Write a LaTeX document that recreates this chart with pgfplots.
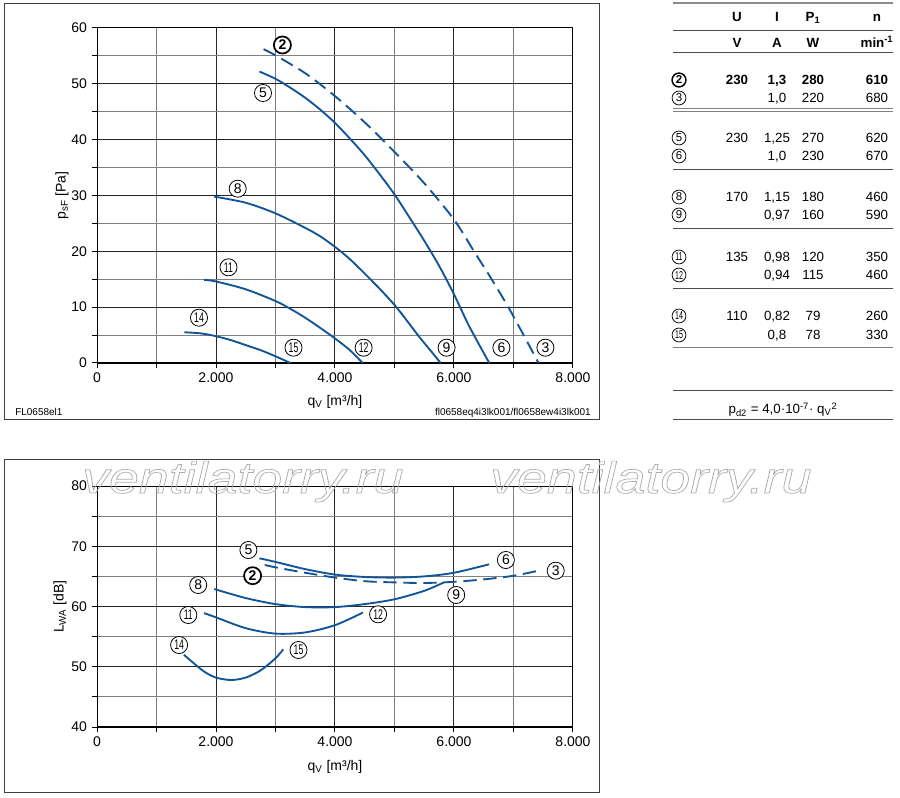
\documentclass[border=0pt]{standalone}
\usepackage{pgfplots}
\pgfplotsset{compat=1.18}
\usepackage{fontspec}
\setmainfont{Liberation Sans}
\usepackage{graphicx}
\definecolor{curve}{RGB}{18,84,152}
\begin{document}
\begin{tikzpicture}
\path[use as bounding box] (0,0) rectangle (675pt,597.75pt);
\pgfplotsset{
  myaxis/.style={
    anchor=south west, scale only axis, width=357pt,
    xmin=0,xmax=8000,
    xtick={0,2000,4000,6000,8000}, xticklabels={0,2.000,4.000,6.000,8.000},
    minor xtick={1000,3000,5000,7000},
    grid=both,
    major grid style={black!85,line width=0.75pt},
    minor grid style={black!50,line width=0.75pt},
    axis line style={black,line width=0.75pt},
    tick align=outside, major tick length=4pt, minor tick length=4pt,
    tick style={black,line width=0.75pt},
    tick pos=left,
    tick label style={font=\fontsize{10.5}{12}\selectfont},
    /pgf/number format/assume math mode=true,
    label style={font=\fontsize{10.5}{12}\selectfont},
    clip=false,
  }
}
% ---------- top axis ----------
\begin{axis}[myaxis, at={(72.75pt,325.5pt)}, height=251.25pt,
  ymin=0,ymax=60, ytick={0,10,...,60}, minor ytick={5,15,...,55},
  xlabel={q\textsubscript{V} [m³/h]},
  ylabel={p\textsubscript{sF} [Pa]},
  ylabel style={at={(axis description cs:-0.0735,0.5)},anchor=center},
  xlabel style={at={(axis description cs:0.5,-0.1164)},anchor=center},
]
\draw[black,line width=1.6pt] (axis cs:0,0) -- (axis cs:8000,0);
% 2/3 dashed
\addplot[curve,line width=1.4pt,smooth,dash pattern=on 10pt off 5pt] coordinates {
(2800,56.2) (3000,55.1) (3500,51.9) (4000,47.8) (4500,43.1) (5000,37.8) (5500,32.2) (6000,25.7) (6336,20.0) (6633,15.0) (6913,10.0) (7170,5.0) (7420,0)};
% 5/6
\addplot[curve,line width=1.4pt,smooth] coordinates {
(2730,52.2) (3000,50.9) (3250,49.3) (3500,47.5) (3750,45.4) (4000,43.0) (4250,40.2) (4500,37.2) (4750,33.8) (5000,30.2) (5250,26.1) (5500,21.9) (5750,17.4) (6000,12.3) (6250,6.7) (6593,0)};
% 8/9
\addplot[curve,line width=1.4pt,smooth] coordinates {
(1970,29.8) (2500,28.7) (3000,26.8) (3500,24.2) (3750,22.7) (4000,20.8) (4250,18.6) (4500,16.0) (4750,13.3) (5000,10.4) (5200,7.7) (5400,4.9) (5600,2.3) (5776,0)};
% 11/12
\addplot[curve,line width=1.4pt,smooth] coordinates {
(1800,14.9) (2000,14.6) (2500,13.2) (3000,11.1) (3250,9.7) (3500,8.1) (3750,6.3) (4000,4.4) (4250,2.3) (4465,0)};
% 14/15
\addplot[curve,line width=1.4pt,smooth] coordinates {
(1470,5.5) (1750,5.3) (2000,4.8) (2250,4.1) (2500,3.2) (2750,2.3) (3000,1.2) (3250,0)};
\end{axis}
% ---------- bottom axis ----------
\begin{axis}[myaxis, at={(72.75pt,52.5pt)}, height=180.75pt,
  ymin=40,ymax=80, ytick={40,50,...,80}, minor ytick={45,55,...,75},
  xlabel={q\textsubscript{V} [m³/h]},
  ylabel={L\textsubscript{WA} [dB]},
  ylabel style={at={(axis description cs:-0.0777,0.5)},anchor=center},
  xlabel style={at={(axis description cs:0.5,-0.166)},anchor=center},
]
\draw[black,line width=1.6pt] (axis cs:0,40) -- (axis cs:8000,40);
% 2/3 dashed
\addplot[curve,line width=1.4pt,smooth,dash pattern=on 10pt off 5pt] coordinates {
(2820,66.9) (3000,66.5) (3500,65.6) (4000,64.8) (4500,64.2) (5000,64.0) (5500,63.9) (6000,64.1) (6500,64.5) (7000,65.1) (7400,65.9)};
% 5/6
\addplot[curve,line width=1.4pt,smooth] coordinates {
(2730,68.0) (3000,67.4) (3500,66.2) (4000,65.3) (4500,64.9) (5000,64.8) (5500,65.0) (6000,65.6) (6590,67.0)};
% 8/9
\addplot[curve,line width=1.4pt,smooth] coordinates {
(1970,62.9) (2500,61.4) (3000,60.4) (3500,59.9) (4000,59.9) (4500,60.4) (5000,61.2) (5500,62.6) (5830,64.0)};
% 11/12
\addplot[curve,line width=1.4pt,smooth] coordinates {
(1800,58.9) (2000,58.2) (2500,56.4) (3000,55.5) (3500,55.7) (4000,56.9) (4470,59.0)};
% 14/15
\addplot[curve,line width=1.4pt,smooth] coordinates {
(1460,52.0) (1600,50.8) (1800,49.2) (2000,48.2) (2250,47.8) (2500,48.2) (2750,49.4) (3000,51.4) (3130,52.9)};
\end{axis}
% ---------- annotations in pixel coordinates ----------
\begin{scope}[shift={(0pt,597.75pt)},x=0.75pt,y=-0.75pt]
\tikzset{
  cl/.style={circle,draw,line width=0.6pt,minimum size=12.8pt,inner sep=0pt,font=\fontsize{10.5}{12}\selectfont,fill=white},
  clb/.style={cl,line width=1.3pt,font=\fontsize{10.5}{12}\selectfont\bfseries},
  tc/.style={circle,draw,line width=0.55pt,minimum size=10.4pt,inner sep=0pt,font=\fontsize{8.6}{9}\selectfont},
  tcb/.style={tc,line width=1.1pt,font=\fontsize{8.6}{9}\selectfont\bfseries},
  tt/.style={anchor=base,font=\fontsize{10}{11}\selectfont,inner sep=0pt},
  ttb/.style={tt,font=\fontsize{10}{11}\selectfont\bfseries},
}
\newcommand{\two}[1]{\scalebox{0.62}[1]{#1}}
% frames
\draw[black!75,line width=0.75pt] (4,3.5) rectangle (599,420);
\draw[black!75,line width=0.75pt] (4,460) rectangle (599,792);
\node[anchor=base west,font=\fontsize{7.5}{9}\selectfont,inner sep=0pt] at (15,415.5) {FL0658el1};
\node[anchor=base east,font=\fontsize{7.5}{9}\selectfont,inner sep=0pt] at (591,415.5) {fl0658eq4i3lk001/fl0658ew4i3lk001};
% top labels
\node[clb] at (282.4,45) {2};
\node[cl] at (263,93) {5};
\node[cl] at (237.7,188.7) {8};
\node[cl] at (228.5,267.3) {\two{11}};
\node[cl] at (199,317.7) {\two{14}};
\node[cl] at (293.5,347.7) {\two{15}};
\node[cl] at (363.6,347.7) {\two{12}};
\node[cl] at (446.6,347.7) {9};
\node[cl] at (501.4,347.7) {6};
\node[cl] at (545.4,347.7) {3};
% bottom labels
\node[cl] at (248.4,550) {5};
\node[clb] at (252.6,575.7) {2};
\node[cl] at (198.2,585) {8};
\node[cl] at (188.3,615) {\two{11}};
\node[cl] at (179.1,645) {\two{14}};
\node[cl] at (298.5,650) {\two{15}};
\node[cl] at (378.1,614.3) {\two{12}};
\node[cl] at (456.2,595) {9};
\node[cl] at (505.9,560) {6};
\node[cl] at (555.7,570.7) {3};
% table lines
\draw[black!45,line width=1.5pt] (673,3.3) -- (893,3.3);
\draw[black!70,line width=0.75pt] (673,30.7) -- (893,30.7);
\draw[black!70,line width=0.75pt] (673,52.3) -- (893,52.3);
\draw[black!50,line width=0.75pt] (673,109) -- (893,109);
\draw[black!50,line width=0.75pt] (673,112) -- (893,112);
\draw[black!70,line width=0.75pt] (673,169.5) -- (893,169.5);
\draw[black!70,line width=0.75pt] (673,228.5) -- (893,228.5);
\draw[black!70,line width=0.75pt] (673,288.3) -- (893,288.3);
\draw[black!50,line width=1.2pt] (673,347.7) -- (893,347.7);
\draw[black!70,line width=0.75pt] (673,390.7) -- (893,390.7);
\draw[black!70,line width=0.75pt] (673,420) -- (893,420);
% header
\node[ttb] at (737,21.5) {U};
\node[ttb] at (777,21.5) {I};
\node[ttb] at (813,21.5) {P\textsubscript{1}};
\node[ttb] at (877,21.5) {n};
\node[ttb] at (737,47.5) {V};
\node[ttb] at (777,47.5) {A};
\node[ttb] at (813,47.5) {W};
\node[ttb] at (877,47.5) {min\textsuperscript{-1}};
% rows
\node[tcb] at (679,80) {2};
\node[ttb] at (737,84.5) {230};
\node[ttb] at (777,84.5) {1,3};
\node[ttb] at (813,84.5) {280};
\node[ttb] at (877,84.5) {610};
\node[tc] at (679,98) {3};
\node[tt] at (777,102.5) {1,0};
\node[tt] at (813,102.5) {220};
\node[tt] at (877,102.5) {680};
\node[tc] at (679,138) {5};
\node[tt] at (737,142.5) {230};
\node[tt] at (777,142.5) {1,25};
\node[tt] at (813,142.5) {270};
\node[tt] at (877,142.5) {620};
\node[tc] at (679,156) {6};
\node[tt] at (777,160.5) {1,0};
\node[tt] at (813,160.5) {230};
\node[tt] at (877,160.5) {670};
\node[tc] at (679,197) {8};
\node[tt] at (737,201.5) {170};
\node[tt] at (777,201.5) {1,15};
\node[tt] at (813,201.5) {180};
\node[tt] at (877,201.5) {460};
\node[tc] at (679,215) {9};
\node[tt] at (777,219.5) {0,97};
\node[tt] at (813,219.5) {160};
\node[tt] at (877,219.5) {590};
\node[tc] at (679,257) {\two{11}};
\node[tt] at (737,261.5) {135};
\node[tt] at (777,261.5) {0,98};
\node[tt] at (813,261.5) {120};
\node[tt] at (877,261.5) {350};
\node[tc] at (679,275) {\two{12}};
\node[tt] at (777,279.5) {0,94};
\node[tt] at (813,279.5) {115};
\node[tt] at (877,279.5) {460};
\node[tc] at (679,316) {\two{14}};
\node[tt] at (737,320.5) {110};
\node[tt] at (777,320.5) {0,82};
\node[tt] at (813,320.5) {79};
\node[tt] at (877,320.5) {260};
\node[tc] at (679,335) {\two{15}};
\node[tt] at (777,339.5) {0,8};
\node[tt] at (813,339.5) {78};
\node[tt] at (877,339.5) {330};
\node[tt] at (783,414) {p\textsubscript{d2} = 4,0·10\textsuperscript{-7}· q\textsubscript{V}\textsuperscript{2}};
% watermark (outlined text)
\foreach \px in {82,490}{
  \node[anchor=base west,inner sep=0pt,text=black!32,font=\fontsize{33}{36}\selectfont\itshape] at (\px,493)
    {\special{pdf:literal direct 1 Tr 0.5 w}\scalebox{1.22}[1]{ventilatorry.ru}\special{pdf:literal direct 0 Tr}};
}
\end{scope}
\end{tikzpicture}
\end{document}
